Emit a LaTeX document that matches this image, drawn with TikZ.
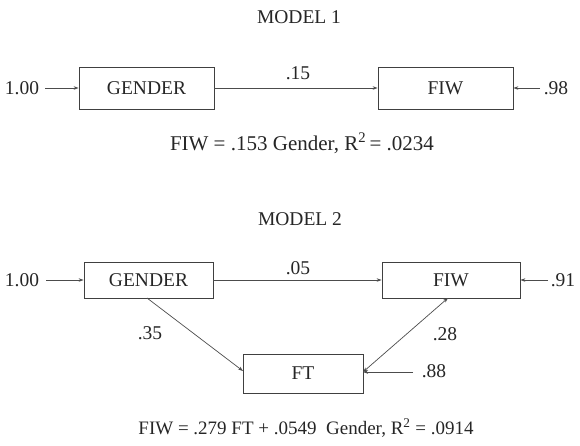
\documentclass[tikz,border=0pt]{standalone}
\usepackage{fontspec}
\setmainfont{Liberation Serif}
\usetikzlibrary{arrows.meta}
\begin{document}
\begin{tikzpicture}[x=1pt,y=-1pt,
  every node/.style={font=\fontsize{19.5}{23}\selectfont, text=black!85},
  eqnode/.style={font=\fontsize{#1}{24}\selectfont},
  boxnode/.style={draw=black!75, line width=0.8pt, minimum height=#1, inner sep=0pt},
  conn/.style={draw=black!70, line width=0.7pt, -{Stealth[length=5pt,width=3.5pt]}},
  dconn/.style={draw=black!70, line width=0.7pt, {Stealth[length=5pt,width=3.5pt]}-{Stealth[length=5pt,width=3.5pt]}},
  lbl/.style={inner sep=1pt}]
\useasboundingbox (0,0) rectangle (580,445);
% Model 1
\node (t1) at (299,17) {MODEL 1};
\node[boxnode=42pt, minimum width=135pt] (g1) at (146.5,88) {GENDER};
\node[boxnode=42pt, minimum width=135pt] (f1) at (445.5,88) {FIW};
\node[lbl] (e1) at (22,88) {1.00};
\coordinate (e1s) at (45,88);
\node[lbl] (r1) at (556,88) {.98};
\coordinate (r1s) at (540,88);
\draw[conn] (e1s) -- (g1.west);
\draw[conn] (r1s) -- (f1.east);
\draw[conn] (g1.east) -- (f1.west);
\node[lbl] (p1) at (298,73) {.15};
\node[eqnode=21] (eq1) at (302,143) {FIW = .153 Gender, R\textsuperscript{2}\,= .0234};
% Model 2
\node (t2) at (300,219) {MODEL 2};
\node[boxnode=36pt, minimum width=129pt] (g2) at (148.5,280) {GENDER};
\node[boxnode=36pt, minimum width=138pt] (f2) at (451,280) {FIW};
\node[boxnode=39pt, minimum width=120pt] (ft) at (303,373.5) {FT};
\node[lbl] (e2) at (22,280) {1.00};
\coordinate (e2s) at (46,280);
\node[lbl] (r2) at (563,280) {.91};
\coordinate (r2s) at (548,280);
\node[lbl] (r3) at (434,371) {.88};
\coordinate (r3s) at (413,372);
\draw[conn] (e2s) -- (g2.west);
\draw[conn] (r2s) -- (f2.east);
\draw[conn] (g2.east) -- (f2.west);
\node[lbl] (p2) at (298,268) {.05};
\coordinate (gb) at (147,298);
\coordinate (fl) at (243,371);
\draw[conn] (gb) -- (fl);
\node[lbl] (p3) at (150,333) {.35};
\coordinate (fb) at (448,298);
\coordinate (fr) at (363,372);
\draw[dconn] (fb) -- (fr);
\node[lbl] (p4) at (445,334) {.28};
\draw[conn] (r3s) -- (fr);
\node[eqnode=19] (eq2) at (306,428) {FIW = .279 FT + .0549\ \ Gender, R\textsuperscript{2} = .0914};
\end{tikzpicture}
\end{document}
